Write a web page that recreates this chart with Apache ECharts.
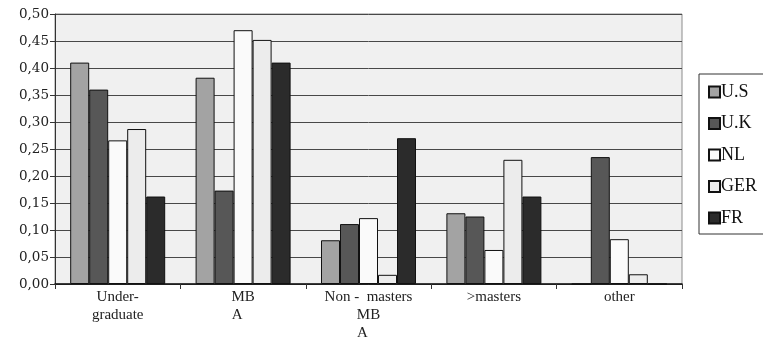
<!DOCTYPE html>
<html>
<head>
<meta charset="utf-8">
<script src="https://cdn.jsdelivr.net/npm/echarts@6/dist/echarts.min.js"></script>
<style>
  html, body { margin: 0; padding: 0; background: #ffffff; }
  #chart { width: 763px; height: 345px; }
</style>
</head>
<body>
<div id="chart"></div>
<script>
// Share of respondents by degree level, per country
const categories = ['Under-graduate', 'MBA', 'Non - masters MBA', '>masters', 'other'];
const usValues  = [0.41, 0.382, 0.081, 0.131, 0];
const ukValues  = [0.36, 0.173, 0.111, 0.125, 0.235];
const nlValues  = [0.266, 0.47, 0.122, 0.063, 0.083];
const gerValues = [0.287, 0.452, 0.017, 0.23, 0.018];
const frValues  = [0.162, 0.41, 0.27, 0.162, 0];
const yTicks = { min: 0, max: 0.5, interval: 0.05 };

const seriesDefs = [
  { name: 'U.S', data: usValues,  color: '#a3a3a3' },
  { name: 'U.K', data: ukValues,  color: '#575757' },
  { name: 'NL',  data: nlValues,  color: '#fafafa' },
  { name: 'GER', data: gerValues, color: '#ececec' },
  { name: 'FR',  data: frValues,  color: '#2b2b2b' }
];

const serif = '"Liberation Serif", "DejaVu Serif", serif';
const wideSerif = '"DejaVu Serif", "Liberation Serif", serif';

// Axis label layout for each category (multi-line labels)
function categoryLabel(name) {
  switch (name) {
    case 'Under-graduate': return '{c|Under-}\n{c|graduate}';
    case 'MBA': return '{c|MB}\n{a|A}';
    case 'Non - masters MBA': return '{c|Non -  masters}\n{c|MB}\n{a|A}';
    default: return '{c|' + name + '}';
  }
}

const labelText = { fontFamily: serif, fontSize: 15, lineHeight: 18, color: '#222222' };

const chart = echarts.init(document.getElementById('chart'));
chart.setOption({
  animation: false,
  backgroundColor: '#ffffff',
  textStyle: { fontFamily: serif },
  grid: {
    left: 55, right: 81, top: 14, bottom: 61,
    show: true,
    backgroundColor: '#f0f0f0',
    borderColor: '#8c8c8c',
    borderWidth: 1
  },
  legend: {
    orient: 'vertical',
    left: 699, top: 74,
    padding: [9, 20, 7, 9],
    backgroundColor: '#ffffff',
    borderColor: '#333333',
    borderWidth: 1,
    borderRadius: 0,
    itemWidth: 11,
    itemHeight: 11,
    itemGap: 13.5,
    icon: 'rect',
    textStyle: { fontFamily: serif, fontSize: 18, color: '#111111', padding: [0, 0, 0, -4] },
    data: seriesDefs.map(s => s.name)
  },
  xAxis: {
    type: 'category',
    data: categories,
    axisLine: { lineStyle: { color: '#111111', width: 1.5 } },
    axisTick: { show: true, length: 5, lineStyle: { color: '#333333' } },
    axisLabel: Object.assign({
      margin: 4,
      interval: 0,
      formatter: categoryLabel,
      rich: {
        c: Object.assign({ align: 'center' }, labelText),
        a: Object.assign({ align: 'center', padding: [0, 12, 0, 0] }, labelText)
      }
    }, labelText)
  },
  yAxis: {
    type: 'value',
    min: yTicks.min,
    max: yTicks.max,
    interval: yTicks.interval,
    axisLine: { show: true, lineStyle: { color: '#333333' } },
    axisTick: { show: true, length: 5, lineStyle: { color: '#333333' } },
    splitLine: { show: true, lineStyle: { color: '#484848', width: 1 } },
    axisLabel: {
      margin: 6,
      color: '#222222',
      fontFamily: wideSerif,
      fontSize: 13.5,
      formatter: v => v.toFixed(2).replace('.', ',')
    }
  },
  series: seriesDefs.map(s => ({
    name: s.name,
    type: 'bar',
    data: s.data,
    barWidth: 19,
    barGap: '0%',
    itemStyle: { color: s.color, borderColor: '#111111', borderWidth: 1 }
  }))
});
</script>
</body>
</html>
